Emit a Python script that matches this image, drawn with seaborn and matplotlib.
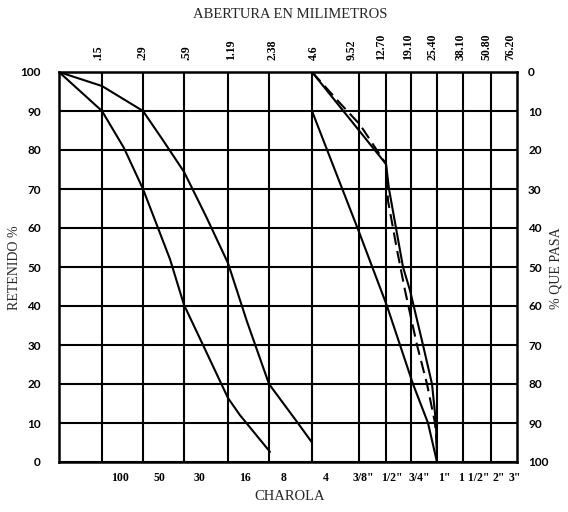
import numpy as np
import pandas as pd
import matplotlib
matplotlib.use('Agg')
import matplotlib.pyplot as plt
import seaborn as sns

# posiciones de las lineas verticales de la reticula (escala dibujada a mano)
grid_x = [0, 43, 84, 125, 169, 210, 253, 300, 327, 352, 378, 404, 432, 458]

# etiquetas superiores (abertura en mm) y su posicion
top_labels = ['.15', '.29', '.59', '1.19', '2.38', '4.6', '9.52', '12.70',
              '19.10', '25.40', '38.10', '50.80', '76.20']
top_pos = [40, 84, 128, 172, 213, 255, 293, 322, 349, 374, 402, 428, 451]

# etiquetas inferiores (mallas)
bottom_labels = ['100', '50', '30', '16', '8', '4', '3/8"', '1/2"', '3/4"',
                 '1"', '1 1/2"', '2"', '3"']
bottom_pos = [61, 100, 141, 186, 225, 267, 304, 333, 360, 385, 415, 440, 456]

# curvas granulometricas (x en la escala de la reticula, y = % retenido)
arena_sup_x = [0, 43, 84, 104, 125, 147, 169, 188, 210, 238, 253]
arena_sup_y = [100, 96.4, 90, 82.5, 74.4, 63, 51, 36, 20, 10.3, 5]

arena_inf_x = [0, 43, 65, 84, 111, 125, 144, 169, 181, 211]
arena_inf_y = [100, 90, 80.5, 70, 52, 40.3, 30, 16.4, 12, 2.6]

grava_sup_x = [253, 327, 330, 337, 344, 351, 364, 373, 377, 378]
grava_sup_y = [100, 76.4, 70, 60, 50, 44, 30, 20, 10, 0]

grava_dash_x = [253, 281, 301, 327, 329, 338, 346, 358, 368, 376, 378]
grava_dash_y = [100, 92, 86.5, 76.4, 67, 54.4, 44, 30, 20, 10, 4]

grava_inf_x = [253, 276, 300, 328, 341, 354, 369, 378]
grava_inf_y = [90, 74.8, 59, 40, 30, 20, 10, 0]

sns.set_theme(style="white")

fig = plt.figure(figsize=(5.68, 5.12), dpi=100)
ax = fig.add_axes([59 / 568, 1 - 462 / 512, 458 / 568, 390 / 512])

for xs, ys in [(arena_sup_x, arena_sup_y),
               (arena_inf_x, arena_inf_y),
               (grava_sup_x, grava_sup_y),
               (grava_inf_x, grava_inf_y)]:
    sns.lineplot(x=xs, y=ys, ax=ax, color='black', lw=1.5, sort=False,
                 estimator=None)
sns.lineplot(x=grava_dash_x, y=grava_dash_y, ax=ax, color='black', lw=1.5,
             sort=False, estimator=None)
ax.lines[-1].set_dashes([6, 3])

ax.set_xlim(0, 458)
ax.set_ylim(0, 100)
ax.set_xlabel('')
ax.set_ylabel('')

# reticula
ax.set_xticks(grid_x[1:-1], minor=True)
ax.set_xticks(bottom_pos)
ax.set_xticklabels(bottom_labels, fontsize=8.5, fontweight='bold',
                   family='Liberation Serif')
ax.set_yticks(range(0, 101, 10))
ax.set_yticklabels([str(v) for v in range(0, 101, 10)], fontsize=8.5,
                   fontweight='bold', family='Lato')
ax.grid(False)
ax.xaxis.grid(True, which='minor', color='black', lw=1.5)
ax.yaxis.grid(True, which='major', color='black', lw=1.5)
ax.tick_params(axis='x', which='both', length=0, pad=7, colors='black')
ax.tick_params(axis='y', length=0, pad=13, colors='black')
for s in ax.spines.values():
    s.set_color('black')
    s.set_linewidth(1.8)

# eje superior
ax_top = ax.twiny()
ax_top.set_xlim(0, 458)
ax_top.set_xticks(top_pos)
ax_top.set_xticklabels(top_labels, rotation=90, fontsize=8.5,
                       fontweight='bold', family='Liberation Serif')
ax_top.tick_params(length=0, pad=9, colors='black')
ax_top.grid(False)
for s in ax_top.spines.values():
    s.set_visible(False)

# eje derecho (% que pasa)
ax_r = ax.twinx()
ax_r.set_ylim(100, 0)
ax_r.set_yticks(range(0, 101, 10))
ax_r.set_yticklabels([str(v) for v in range(0, 101, 10)], fontsize=8.5,
                     fontweight='bold', family='Lato')
ax_r.tick_params(length=0, pad=8, colors='black')
ax_r.grid(False)
for s in ax_r.spines.values():
    s.set_visible(False)

fig.text(290 / 568, 1 - 14 / 512, 'ABERTURA EN MILIMETROS', ha='center',
         va='center', fontsize=10.5, family='Liberation Serif')
fig.text(290 / 568, 1 - 497 / 512, 'CHAROLA', ha='center', va='center',
         fontsize=10.5, family='Liberation Serif')
fig.text(15 / 568, 1 - 268 / 512, 'RETENIDO %', ha='center', va='center',
         rotation=90, fontsize=10, family='Liberation Serif')
fig.text(556 / 568, 1 - 268 / 512, '% QUE PASA', ha='center', va='center',
         rotation=90, fontsize=10, family='Liberation Serif')

fig.savefig('out.png', dpi=100, facecolor='white')
